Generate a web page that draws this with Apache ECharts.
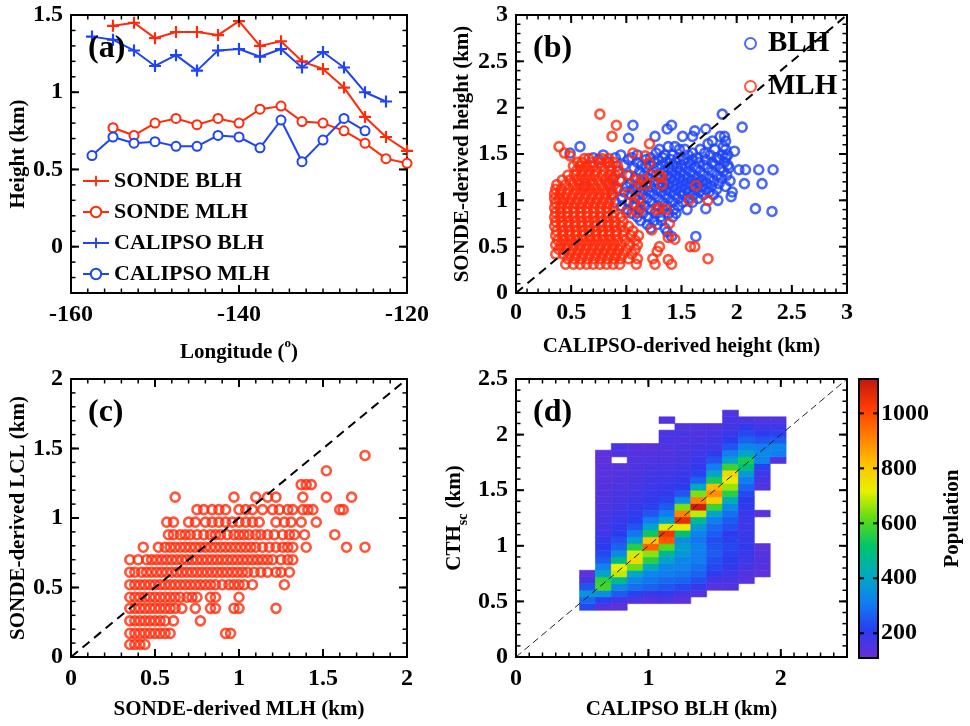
<!DOCTYPE html>
<html><head><meta charset="utf-8">
<script src="https://cdn.jsdelivr.net/npm/echarts@6/dist/echarts.min.js"></script>
<style>html,body{margin:0;padding:0;background:#fff}#c{width:970px;height:726px}</style>
</head><body><div id="c"></div>
<script>
// ---------- Panel (a) data ----------
const lonGrid = [-157.5,-155,-152.5,-150,-147.5,-145,-142.5,-140,-137.5,-135,-132.5,-130,-127.5,-125,-122.5,-120];
const sondeBLH = [null,1.43,1.45,1.35,1.39,1.39,1.37,1.46,1.30,1.33,1.20,1.15,1.03,0.84,0.71,0.62];
const sondeMLH = [null,0.77,0.72,0.80,0.83,0.79,0.83,0.80,0.89,0.91,0.81,0.80,0.75,0.67,0.57,0.54];
const calipsoBLH = [1.36,1.34,1.27,1.17,1.24,1.14,1.27,1.28,1.23,1.28,1.16,1.26,1.16,1.00,0.94,null];
const calipsoMLH = [0.59,0.71,0.67,0.68,0.65,0.65,0.72,0.71,0.64,0.82,0.55,0.69,0.83,0.75,null,null];
const aXTicks = [-160,-140,-120];
const aYTicks = [0,0.5,1,1.5];

// ---------- Panel (b) data: [SONDE height row, CALIPSO heights] ----------
const blhRows = [
 [1.93,[1.87]],[1.81,[1.06,1.41]],[1.79,[2.05]],[1.77,[1.37,1.72]],[1.75,[1.62]],
 [1.69,[1.26,1.51,1.60,1.85,1.89]],[1.67,[1.02]],[1.64,[1.78,1.90]],[1.61,[1.74]],
 [1.58,[0.58,1.38,1.44,1.88]],[1.55,[1.30,1.48,1.53,1.67,1.80,1.90]],[1.53,[1.98]],
 [1.51,[0.49,1.27,1.60,1.71]],
 [1.49,[0.79,0.95,1.10,1.35,1.42,1.56,1.76,1.87,1.92]],
 [1.46,[0.70,0.90,1.05,1.22,1.33,1.47,1.64,1.82,1.90]],
 [1.44,[0.75,1.02,1.18,1.29,1.40,1.52,1.60,1.72,1.84]],
 [1.41,[0.84,1.10,1.25,1.36,1.45,1.56,1.66,1.78,1.89]],
 [1.38,[0.98,1.14,1.21,1.32,1.42,1.50,1.58,1.70,1.80,1.92]],
 [1.35,[1.07,1.18,1.28,1.38,1.46,1.54,1.63,1.74,1.85,1.93]],
 [1.33,[2.02,2.08,2.20,2.33]],
 [1.31,[0.92,1.12,1.24,1.34,1.41,1.49,1.58,1.67,1.78,1.88]],
 [1.27,[1.01,1.16,1.27,1.37,1.45,1.52,1.61,1.70,1.82,1.91]],
 [1.24,[0.88,1.08,1.20,1.31,1.40,1.48,1.56,1.65,1.75,1.86]],
 [1.21,[0.95,1.13,1.25,1.35,1.43,1.51,1.60,1.69,1.79,1.94]],
 [1.18,[0.85,1.04,1.18,1.29,1.38,1.46,1.55,1.64,1.73,1.84,2.07,2.23]],
 [1.15,[0.62,1.00,1.10,1.22,1.33,1.42,1.50,1.59,1.68,1.77,1.90]],
 [1.12,[0.92,1.06,1.16,1.27,1.36,1.45,1.54,1.62,1.72,1.82]],
 [1.09,[0.98,1.12,1.21,1.31,1.40,1.49,1.57,1.66,1.75,1.96]],
 [1.06,[0.87,1.04,1.15,1.25,1.35,1.44,1.52,1.61,1.70,1.79]],
 [1.04,[1.95]],
 [1.02,[0.96,1.08,1.19,1.29,1.38,1.47,1.56,1.65]],
 [1.00,[1.83]],
 [0.98,[0.90,1.02,1.13,1.23,1.33,1.42,1.51,1.60]],
 [0.94,[0.96,1.07,1.17,1.28,1.37,1.47]],
 [0.91,[1.72,2.17]],
 [0.90,[1.01,1.12,1.22,1.33,1.43,1.55]],
 [0.88,[2.32]],
 [0.86,[1.05,1.15,1.26,1.38,1.45]],
 [0.82,[1.10,1.20,1.31,1.42]],
 [0.78,[1.13,1.25,1.32]],
 [0.74,[1.19,1.28]],
 [0.70,[1.22,1.35]],
 [0.66,[1.37]],
 [0.61,[1.41,1.63]]
];
const mlhRows = [
 [1.93,[0.76]],[1.81,[0.91]],[1.69,[0.87]],[1.61,[1.21]],[1.58,[0.39]],
 [1.51,[0.44,1.06]],[1.48,[0.49,1.17]],
 [1.45,[0.62,0.66,0.78,0.84]],
 [1.41,[0.56,0.60,0.68,0.75,0.82,0.88]],
 [1.40,[1.21]],
 [1.37,[0.52,0.58,0.64,0.70,0.77,0.85,0.92]],
 [1.32,[0.55,0.61,0.67,0.73,0.80,0.86,0.93]],
 [1.27,[0.47,0.53,0.59,0.65,0.71,0.78,0.84,0.90,1.03,1.22,1.30]],
 [1.25,[1.32]],
 [1.22,[0.42,0.49,0.56,0.62,0.68,0.74,0.81,0.87,0.94,1.08,1.15]],
 [1.17,[0.37,0.45,0.52,0.58,0.64,0.70,0.77,0.83,0.89,1.12,1.18,1.32]],
 [1.16,[1.63]],
 [1.12,[0.36,0.41,0.48,0.55,0.61,0.67,0.73,0.79,0.86,0.92]],
 [1.07,[0.35,0.40,0.46,0.52,0.58,0.64,0.70,0.76,0.82,0.88,1.02]],
 [1.02,[0.35,0.39,0.44,0.50,0.56,0.62,0.68,0.74,0.80,0.86,1.12]],
 [1.00,[1.57,1.74]],
 [0.97,[0.36,0.42,0.48,0.54,0.60,0.66,0.72,0.78,0.84,1.07]],
 [0.92,[0.35,0.40,0.46,0.52,0.58,0.64,0.70,0.76,0.82,0.88,1.13,1.30]],
 [0.90,[1.27,1.36]],
 [0.87,[0.36,0.41,0.47,0.53,0.59,0.65,0.71,0.77,0.83,0.89,1.00,1.10]],
 [0.82,[0.35,0.40,0.46,0.52,0.58,0.64,0.70,0.76,0.82,0.88,0.95]],
 [0.77,[0.36,0.42,0.48,0.54,0.60,0.66,0.72,0.78,0.84,0.90,0.97]],
 [0.75,[1.39]],
 [0.72,[0.35,0.41,0.47,0.53,0.59,0.65,0.71,0.77,0.83,0.89,0.95,1.02]],
 [0.68,[1.23]],
 [0.67,[0.37,0.43,0.49,0.55,0.61,0.67,0.73,0.79,0.85,0.91,0.98,1.06]],
 [0.62,[0.36,0.42,0.48,0.54,0.60,0.66,0.72,0.78,0.84,0.90,0.97,1.04,1.11]],
 [0.60,[1.38]],
 [0.58,[1.44]],
 [0.57,[0.38,0.44,0.50,0.56,0.62,0.68,0.74,0.80,0.86,0.92,0.99,1.08]],
 [0.52,[0.36,0.41,0.47,0.53,0.59,0.65,0.71,0.77,0.83,0.89,0.95,1.03,1.10]],
 [0.50,[1.30,1.58,1.62]],
 [0.47,[0.39,0.45,0.51,0.57,0.63,0.69,0.75,0.81,0.87,0.93,1.00,1.08]],
 [0.45,[1.28]],
 [0.42,[0.36,0.43,0.49,0.55,0.61,0.67,0.73,0.79,0.85,0.91,0.97,1.05]],
 [0.37,[0.47,0.53,0.59,0.65,0.71,0.77,0.83,0.89,0.95,1.02,1.10,1.24,1.74]],
 [0.36,[1.38]],
 [0.31,[0.45,0.52,0.58,0.64,0.70,0.76,0.82,0.88,0.94,1.09,1.26,1.41]]
];
const diagB = [[0,0],[3,3]];

// ---------- Panel (c) data: LCL levels and MLH values on each level ----------
const cLevels = [0.09,0.17,0.26,0.35,0.43,0.52,0.61,0.70,0.79,0.88,0.97,1.06,1.15,1.24,1.34,1.45];
const cXs = [
 [0.35,0.38,0.41,0.44],
 [0.35,0.38,0.41,0.44,0.47,0.50,0.53,0.56,0.59,0.92,0.95],
 [0.35,0.38,0.41,0.44,0.47,0.50,0.53,0.56,0.61,0.77],
 [0.35,0.38,0.41,0.44,0.47,0.50,0.53,0.56,0.59,0.62,0.66,0.74,0.83,0.86,0.97,1.00,1.22],
 [0.35,0.38,0.41,0.44,0.47,0.50,0.53,0.56,0.59,0.62,0.65,0.69,0.72,0.75,0.83,0.86,1.00],
 [0.35,0.38,0.41,0.44,0.47,0.50,0.53,0.56,0.59,0.62,0.65,0.68,0.71,0.74,0.77,0.80,0.83,0.86,0.90,0.94,0.97,1.00,1.03,1.08,1.27],
 [0.35,0.38,0.42,0.45,0.48,0.51,0.54,0.57,0.60,0.63,0.66,0.69,0.72,0.75,0.78,0.81,0.84,0.87,0.90,0.93,0.96,0.99,1.02,1.05,1.09,1.13,1.17,1.22,1.25,1.30],
 [0.35,0.40,0.45,0.48,0.51,0.54,0.57,0.60,0.63,0.66,0.69,0.72,0.75,0.78,0.81,0.84,0.87,0.90,0.93,0.96,0.99,1.02,1.05,1.08,1.11,1.14,1.17,1.20,1.25,1.29,1.32],
 [0.43,0.52,0.56,0.59,0.62,0.65,0.68,0.71,0.74,0.77,0.80,0.83,0.86,0.89,0.92,0.95,0.98,1.01,1.04,1.07,1.10,1.14,1.18,1.22,1.26,1.29,1.32,1.40,1.64,1.75],
 [0.58,0.61,0.65,0.68,0.71,0.75,0.79,0.83,0.86,0.89,0.93,0.97,1.00,1.03,1.06,1.10,1.13,1.17,1.21,1.26,1.30,1.33,1.39,1.57],
 [0.57,0.61,0.70,0.74,0.80,0.84,0.88,0.92,0.96,1.00,1.04,1.08,1.12,1.22,1.27,1.31,1.37,1.46],
 [0.75,0.79,0.84,0.88,0.92,1.00,1.04,1.08,1.14,1.20,1.24,1.29,1.32,1.38,1.41,1.44,1.60,1.62],
 [0.62,0.97,1.10,1.17,1.22,1.38,1.52,1.67],
 [1.37,1.40,1.43],
 [1.52],
 [1.75]
];
const diagC = [[0,0],[2,2]];

// ---------- Panel (d) data: 2-D histogram ----------
const heatX0 = 0.48, heatDX = 0.12;   // CALIPSO BLH bins
const heatY0 = 0.42, heatDY = 0.06;   // CTH bins
const heatRowStart = [0,0,0,1,1,1,1,2,3,3,4,5,22];
const heatValues = [
 [230,280,360,250,170,130],
 [140,220,350,590,570,400,320,260,230,210,200,180,170,165,160,155,150,150,145,140,140,135,130,130],
 [130,170,260,340,470,690,720,480,340,270,240,210,200,190,180,170,165,160,155,150,145,140,null,150,165],
 [150,220,290,330,410,630,770,700,560,390,300,250,215,200,190,180,170,165,160,155,150,150,145,140],
 [140,190,270,300,330,420,560,650,960,810,530,400,310,250,220,200,190,180,175,170,160,155,150,140],
 [150,200,250,280,310,330,390,460,610,980,1040,710,400,310,260,225,200,190,180,175,165,155,150,150,165,160,null,150],
 [130,170,230,270,300,320,330,370,390,350,500,730,1060,910,640,350,250,210,195,185,175,165,160,160,155,165,150],
 [150,190,240,270,290,310,310,320,300,320,380,470,690,1100,910,640,420,270,220,200,190,180,170,160,150,150],
 [140,170,200,230,240,260,250,240,260,280,310,400,580,790,890,830,540,400,310,250,200,180,170,160,150],
 [150,160,180,200,210,220,230,220,210,240,260,290,340,420,560,660,730,770,580,400,310,250,210,190,170,160,150],
 [140,150,170,180,190,200,190,190,180,180,190,200,210,230,270,310,380,500,540,400,330,270,230,200,160],
 [130,140,150,140,130,null,null,null,null,140,null,null,null,150,170,180,220,320,340,310,250,210,180,150],
 [150,310,330,260,220,180,150]
];
const dXTicks = [0,1,2];
const diagD = [[0,0],[2.5,2.5]];
const popMin = 110, popMax = 1125;
const popTicks = [200,400,600,800,1000];

// ---------- build ----------
const F = '"Liberation Serif","Times New Roman",Times,serif';
const K = '#000';
const RED = '#ff2a0a', BLUE = '#1e44f5';
const pairs = arr => lonGrid.map((x,i)=>[x,arr[i]]).filter(p=>p[1]!=null);
const rowsToPts = rows => { const o=[]; rows.forEach(r=>r[1].forEach(x=>o.push([x,r[0]]))); return o; };
const cPoints = []; cLevels.forEach((y,i)=>cXs[i].forEach(x=>cPoints.push([x,y])));
const heatData = [];
heatValues.forEach((col,c)=>col.forEach((v,i)=>{ if(v!=null) heatData.push([heatX0+heatDX*c, heatY0+heatDY*(heatRowStart[c]+i), v]); }));

// tick positions (axis furniture)
function steps(a,b,s){ const o=[]; const n=Math.round((b-a)/s); for(let i=0;i<=n;i++) o.push(+(a+i*s).toFixed(6)); return o; }
function tickRows(xMaj,xMin,yMaj,yMin,majLen){
  const r=[]; majLen = majLen||8;
  xMin.forEach(v=>r.push([0,v,4.5,1.5])); xMaj.forEach(v=>r.push([0,v,majLen,2]));
  yMin.forEach(v=>r.push([1,v,4.5,1.5])); yMaj.forEach(v=>r.push([1,v,majLen,2]));
  return r;
}

const xAxis = [], yAxis = [];
const txt = {color:K, fontFamily:F, fontWeight:'bold'};
function axisSet(list, dim, grid, min, max, major, o) {
  o = o || {};
  const mainPos = dim==='x' ? 'bottom' : 'left', oppPos = dim==='x' ? 'top' : 'right';
  const custom = Array.isArray(major) ? {customValues: major} : {};
  const base = {type:'value', gridIndex:grid, min:min, max:max, splitLine:{show:false}};
  if (!Array.isArray(major)) base.interval = major;
  const idx = list.length;
  list.push(Object.assign({}, base, {
    position: mainPos,
    axisLine:{show:true,onZero:false,lineStyle:{color:K,width:2}},
    axisTick:{show:false},
    axisLabel:Object.assign({show:true,margin:o.margin||9,fontSize:24}, o.noMax?{showMaxLabel:false}:{}, txt, custom),
    name:o.name, nameLocation:'middle', nameGap:o.gap||40,
    nameTextStyle:Object.assign({fontSize:21}, txt, o.nameStyle||{})
  }));
  list.push(Object.assign({}, base, {position:oppPos,
    axisLine:{show:true,onZero:false,lineStyle:{color:K,width:2}},
    axisTick:{show:false}, axisLabel:{show:false}}));
  return idx;
}
const richLon = {t:Object.assign({fontSize:21,lineHeight:26,verticalAlign:'bottom'},txt), s:Object.assign({fontSize:13,lineHeight:26,verticalAlign:'top'},txt)};
const richCTH = {t:Object.assign({fontSize:21,lineHeight:30,verticalAlign:'middle'},txt), s:Object.assign({fontSize:14,lineHeight:30,verticalAlign:'bottom'},txt)};

const ax = axisSet(xAxis,'x',0,-160,-120,20,{name:'{t|Longitude (}{s|o}{t|)}',gap:44,nameStyle:{rich:richLon},margin:10});
const ay = axisSet(yAxis,'y',0,-0.3,1.5,aYTicks,{name:'Height (km)',gap:42,margin:8});
const bx = axisSet(xAxis,'x',1,0,3,0.5,{name:'CALIPSO-derived height (km)',gap:43,margin:8});
const by = axisSet(yAxis,'y',1,0,3,0.5,{name:'SONDE-derived height (km)',gap:43,margin:8});
const cx = axisSet(xAxis,'x',2,0,2,0.5,{name:'SONDE-derived MLH (km)',gap:42,margin:10});
const cy = axisSet(yAxis,'y',2,0,2,0.5,{name:'SONDE-derived LCL (km)',gap:42,margin:8});
const dx = axisSet(xAxis,'x',3,0,2.5,1,{name:'CALIPSO BLH (km)',gap:42,margin:10,noMax:true});
const dy = axisSet(yAxis,'y',3,0,2.5,0.5,{name:'{t|CTH}{s|sc}{t| (km)}',gap:46,nameStyle:{rich:richCTH},margin:8});
// colorbar frame axes
const cbx = xAxis.length;
['bottom','top'].forEach(p=>xAxis.push({type:'value',gridIndex:4,min:0,max:1,position:p,z:10,
  axisLine:{show:true,onZero:false,lineStyle:{color:K,width:2}},axisTick:{show:false},axisLabel:{show:false},splitLine:{show:false}}));
const cby = yAxis.length;
yAxis.push({type:'value',gridIndex:4,min:popMin,max:popMax,position:'right',z:10,splitLine:{show:false},
  axisLine:{show:true,onZero:false,lineStyle:{color:K,width:2}},axisTick:{show:false},
  axisLabel:Object.assign({show:true,margin:3,fontSize:24,customValues:popTicks,formatter:v=>String(v)},txt),
  name:'Population',nameLocation:'middle',nameGap:64,nameTextStyle:Object.assign({fontSize:21},txt)});
yAxis.push({type:'value',gridIndex:4,min:popMin,max:popMax,position:'left',z:10,splitLine:{show:false},
  axisLine:{show:true,onZero:false,lineStyle:{color:K,width:2}},axisTick:{show:false},axisLabel:{show:false}});

// ticks drawn as thin filled rectangles, positioned through the axis scales
function renderTicks(params, api){
  const d = api.value(0), v = api.value(1), len = api.value(2), w = api.value(3);
  const cs = params.coordSys;
  const p = api.coord([v, v]);
  const st = {fill:K};
  if (d === 0) {
    const x = p[0] - w/2, y0 = cs.y, y1 = cs.y + cs.height;
    return {type:'group', children:[
      {type:'rect', shape:{x:x, y:y1-len, width:w, height:len}, style:st},
      {type:'rect', shape:{x:x, y:y0, width:w, height:len}, style:st}]};
  }
  const y = p[1] - w/2, x0 = cs.x, x1 = cs.x + cs.width;
  return {type:'group', children:[
    {type:'rect', shape:{x:x0, y:y, width:len, height:w}, style:st},
    {type:'rect', shape:{x:x1-len, y:y, width:len, height:w}, style:st}]};
}
const tickSeries = (xi, yi, rows) => ({type:'custom', xAxisIndex:xi, yAxisIndex:yi, data:rows, silent:true, z:6,
  encode:{x:1, y:1}, renderItem:renderTicks});

const cross = 'path://M4.1,0H5.9V4.1H10V5.9H5.9V10H4.1V5.9H0V4.1H4.1Z';
const openCircle = (c)=>({symbol:'circle',symbolSize:9,itemStyle:{color:'rgba(0,0,0,0)',borderColor:c,borderWidth:2.6}});
const series = [
 {name:'SONDE BLH',type:'line',xAxisIndex:ax,yAxisIndex:ay,data:pairs(sondeBLH),symbol:cross,symbolSize:12,
   lineStyle:{color:RED,width:2},itemStyle:{color:RED,borderWidth:0}},
 {name:'SONDE MLH',type:'line',xAxisIndex:ax,yAxisIndex:ay,data:pairs(sondeMLH),symbol:'emptyCircle',symbolSize:9,
   lineStyle:{color:RED,width:2},itemStyle:{color:RED,borderColor:RED,borderWidth:2}},
 {name:'CALIPSO BLH',type:'line',xAxisIndex:ax,yAxisIndex:ay,data:pairs(calipsoBLH),symbol:cross,symbolSize:12,
   lineStyle:{color:BLUE,width:2},itemStyle:{color:BLUE,borderWidth:0}},
 {name:'CALIPSO MLH',type:'line',xAxisIndex:ax,yAxisIndex:ay,data:pairs(calipsoMLH),symbol:'emptyCircle',symbolSize:9,
   lineStyle:{color:BLUE,width:2},itemStyle:{color:BLUE,borderColor:BLUE,borderWidth:2}},
 Object.assign({name:'BLH',type:'scatter',xAxisIndex:bx,yAxisIndex:by,data:rowsToPts(blhRows)},openCircle(BLUE)),
 Object.assign({name:'MLH',type:'scatter',xAxisIndex:bx,yAxisIndex:by,data:rowsToPts(mlhRows)},openCircle(RED)),
 {type:'line',xAxisIndex:bx,yAxisIndex:by,data:diagB,symbol:'none',lineStyle:{color:K,width:2,type:[9,6]},z:3},
 Object.assign({name:'LCL',type:'scatter',xAxisIndex:cx,yAxisIndex:cy,data:cPoints},openCircle(RED)),
 {type:'line',xAxisIndex:cx,yAxisIndex:cy,data:diagC,symbol:'none',lineStyle:{color:K,width:2,type:[9,6]},z:3},
 {type:'custom',xAxisIndex:dx,yAxisIndex:dy,data:heatData,encode:{x:0,y:1},
  renderItem:function(params,api){
    const x=api.value(0), y=api.value(1);
    const a=api.coord([x,y+heatDY]), b=api.coord([x+heatDX,y]);
    const col=api.visual('color');
    return {type:'rect',shape:{x:a[0],y:a[1],width:b[0]-a[0],height:b[1]-a[1]},style:{fill:col,stroke:col,lineWidth:0.6}};
  }},
 {type:'line',xAxisIndex:dx,yAxisIndex:dy,data:diagD,symbol:'none',lineStyle:{color:'#222',width:1,type:[7,4]},z:3},
 tickSeries(ax, ay, tickRows(aXTicks, steps(-160,-120,2), aYTicks, steps(-0.3,1.5,0.1))),
 tickSeries(bx, by, tickRows(steps(0,3,0.5), steps(0,3,0.1), steps(0,3,0.5), steps(0,3,0.1))),
 tickSeries(cx, cy, tickRows(steps(0,2,0.5), steps(0,2,0.1), steps(0,2,0.5), steps(0,2,0.1))),
 tickSeries(dx, dy, tickRows(dXTicks, steps(0,2.5,0.1), steps(0,2.5,0.5), steps(0,2.5,0.1))),
 tickSeries(cbx, cby, tickRows([], [], popTicks, [], 5))
];
const heatIdx = 9;

const option = {
  animation:false, backgroundColor:'#fff',
  grid:[
    {left:71,top:15,width:336,height:278},
    {left:516,top:15,width:331,height:278},
    {left:71,top:379,width:336,height:278},
    {left:516,top:379,width:331,height:278},
    {left:859,top:379,width:19,height:279}
  ],
  title:[
    {text:'(a)',left:88,top:33,padding:0,textStyle:Object.assign({fontSize:32},txt)},
    {text:'(b)',left:533,top:33,padding:0,textStyle:Object.assign({fontSize:32},txt)},
    {text:'(c)',left:88,top:397,padding:0,textStyle:Object.assign({fontSize:32},txt)},
    {text:'(d)',left:533,top:397,padding:0,textStyle:Object.assign({fontSize:32},txt)}
  ],
  legend:[
    {data:['SONDE BLH','SONDE MLH','CALIPSO BLH','CALIPSO MLH'],orient:'vertical',left:82,top:170,padding:0,
     itemWidth:26,itemHeight:13,itemGap:9,selectedMode:false,textStyle:Object.assign({fontSize:22},txt)},
    {data:['BLH','MLH'],orient:'vertical',left:744,top:29,padding:0,icon:'circle',
     itemWidth:11,itemHeight:11,itemGap:14,selectedMode:false,textStyle:Object.assign({fontSize:29,padding:[0,0,0,7]},txt)}
  ],
  visualMap:{type:'continuous',min:popMin,max:popMax,seriesIndex:heatIdx,dimension:2,calculable:false,
    left:859,top:379,itemWidth:19,itemHeight:279,padding:0,z:1,
    inRange:{color:['#6a2ed6','#2a3cf0','#0f7ff0','#00aac0','#00c46a','#5cdc14','#e8f000','#ffbe00','#ff7a00','#ff3a00','#c01810']}},
  xAxis:xAxis, yAxis:yAxis, series:series
};
const chart = echarts.init(document.getElementById('c'),null,{renderer:'canvas'});
chart.setOption(option);
</script></body></html>
